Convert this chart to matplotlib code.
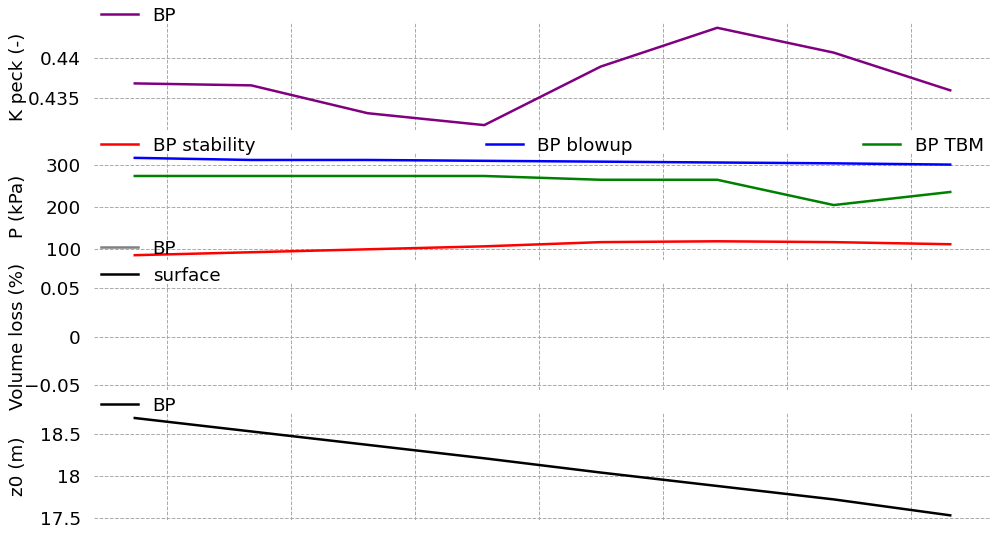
import numpy as np
import matplotlib
matplotlib.use('Agg')
import matplotlib.pyplot as plt
from matplotlib.ticker import MultipleLocator, StrMethodFormatter

# chainage of each ring (m) - x labels are hidden in the chart
chainage = [1037, 1084, 1131, 1178, 1225, 1272, 1319, 1366]

# K peck (-)
k_peck_bp = [0.43683, 0.43659, 0.43317, 0.43171, 0.43890, 0.44366, 0.44061, 0.43598]

# support pressures (kPa)
p_stability = [86, 93, 100, 107, 117, 119, 117, 112]
p_blowup = [317, 312, 312, 310, 308, 306, 304, 301]
p_tbm = [274, 274, 274, 274, 265, 265, 205, 236]

# volume loss (%) - no values available
vl_bp = [np.nan] * 8
vl_surface = [np.nan] * 8

# z0 (m)
z0_bp = [18.69, 18.53, 18.37, 18.21, 18.04, 17.88, 17.72, 17.53]

plt.rcParams['font.size'] = 13.2

fig, axes = plt.subplots(4, 1, sharex=True, figsize=(10, 5.33), dpi=100)
fig.subplots_adjust(left=0.094, right=0.991, top=0.957, bottom=0.024, hspace=0.215)
ax1, ax2, ax3, ax4 = axes

ax1.plot(chainage, k_peck_bp, c='purple', lw=1.8, label='BP')
ax1.set_ylabel('K peck (-)')
ax1.yaxis.set_major_locator(MultipleLocator(0.005))

ax2.plot(chainage, p_stability, c='red', lw=1.8, label='BP stability')
ax2.plot(chainage, p_blowup, c='blue', lw=1.8, label='BP blowup')
ax2.plot(chainage, p_tbm, c='green', lw=1.8, label='BP TBM')
ax2.set_ylabel('P (kPa)')
ax2.yaxis.set_major_locator(MultipleLocator(100))

ax3.plot(chainage, vl_bp, c='gray', lw=1.8, label='BP')
ax3.plot(chainage, vl_surface, c='black', lw=1.8, label='surface')
ax3.set_ylabel('Volume loss (%)')
ax3.set_ylim(-0.055, 0.055)
ax3.yaxis.set_major_locator(MultipleLocator(0.05))

ax4.plot(chainage, z0_bp, c='black', lw=1.8, label='BP')
ax4.set_ylabel('z0 (m)')
ax4.yaxis.set_major_locator(MultipleLocator(0.5))

for ax, nc in zip(axes, [3, 3, 1, 3]):
    for s in ax.spines.values():
        s.set_visible(False)
    ax.grid(True, ls='--', color='#aaaaaa', lw=0.7)
    ax.xaxis.set_major_locator(MultipleLocator(50))
    ax.yaxis.set_major_formatter(StrMethodFormatter('{x:g}'))
    ax.tick_params(axis='both', length=0, pad=9.5, labelbottom=False)
    ax.yaxis.set_label_coords(-0.075, 0.5)
    ax.legend(bbox_to_anchor=(0., 0.915, 1., .1), loc='lower left', mode='expand',
              ncol=nc, borderaxespad=0, frameon=False)

ax1.set_xlim(chainage[0] - 16.45, chainage[-1] + 16.45)

plt.savefig('out.png')
